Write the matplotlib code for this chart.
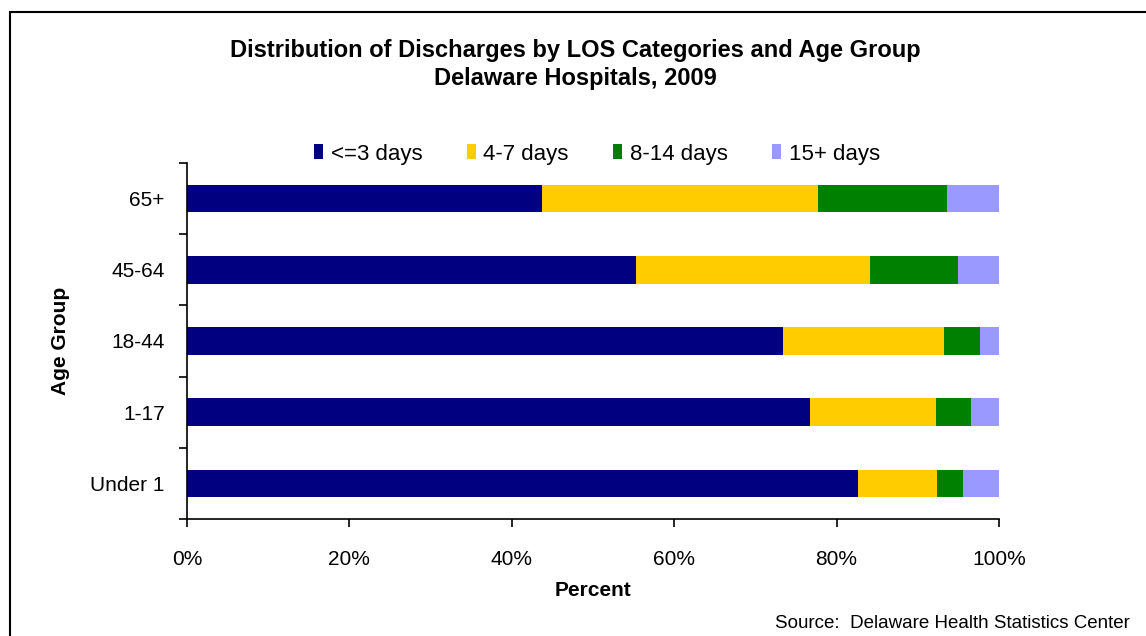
import matplotlib
matplotlib.use("Agg")
import matplotlib.pyplot as plt
from matplotlib.patches import Rectangle
import numpy as np

plt.rcParams['font.family'] = ['Liberation Sans', 'DejaVu Sans']

categories = ["Under 1", "1-17", "18-44", "45-64", "65+"]
series_names = ["<=3 days", "4-7 days", "8-14 days", "15+ days"]
le3 = [82.6, 76.7, 73.4, 55.3, 43.7]
d4_7 = [9.8, 15.5, 19.8, 28.8, 34.0]
d8_14 = [3.2, 4.4, 4.4, 10.8, 15.9]
d15p = [4.4, 3.4, 2.4, 5.1, 6.4]
colors = ["#000080", "#FFCC00", "#008000", "#9999FF"]
xticks = [0, 20, 40, 60, 80, 100]

W, H = 1146, 636
fig = plt.figure(figsize=(W/100, H/100), dpi=100)
ax = fig.add_axes([187/W, 1-519/H, (999-187)/W, (519-163)/H])

y = np.arange(len(categories))
left = np.zeros(len(categories))
for vals, name, c in zip([le3, d4_7, d8_14, d15p], series_names, colors):
    ax.barh(y, vals, left=left, height=0.39, color=c, label=name, edgecolor='none')
    left += np.array(vals)

ax.set_xlim(0, 100)
ax.set_ylim(-0.5, len(categories)-0.5)
ax.set_xticks(xticks)
ax.set_xticklabels([f"{v}%" for v in xticks], fontsize=15)
ax.set_yticks(y)
ax.set_yticklabels(categories, fontsize=15)
ax.set_yticks(np.arange(-0.5, len(categories), 1), minor=True)
ax.tick_params(axis='y', which='major', length=0, pad=16)
ax.tick_params(axis='y', which='minor', length=6, width=1.2, direction='out')
ax.tick_params(axis='x', which='major', length=6, width=1.2, direction='out', pad=16)
for s in ['top', 'right']:
    ax.spines[s].set_visible(False)
for s in ['left', 'bottom']:
    ax.spines[s].set_linewidth(1.2)

ax.set_xlabel("Percent", fontsize=15, fontweight='bold', labelpad=9)
ax.set_ylabel("Age Group", fontsize=15, fontweight='bold', labelpad=15)

fig.text(575/W, 1-50/H, "Distribution of Discharges by LOS Categories and Age Group",
         ha='center', va='center', fontsize=17, fontweight='bold')
fig.text(575/W, 1-78/H, "Delaware Hospitals, 2009",
         ha='center', va='center', fontsize=17, fontweight='bold')

fig.legend(loc='center', bbox_to_anchor=(597/W, 1-154/H), ncol=4, frameon=False,
           fontsize=16, handlelength=0.4, handleheight=0.65, handletextpad=0.35,
           columnspacing=2.0)

fig.text(1130/W, 1-623/H, "Source:  Delaware Health Statistics Center",
         ha='right', va='center', fontsize=13.5)

fig.patches.append(Rectangle((10/W, -0.05), 1.2, 1-12/H+0.05, transform=fig.transFigure,
                             fill=False, edgecolor='black', linewidth=1.5))

fig.savefig("out.png", dpi=100)
